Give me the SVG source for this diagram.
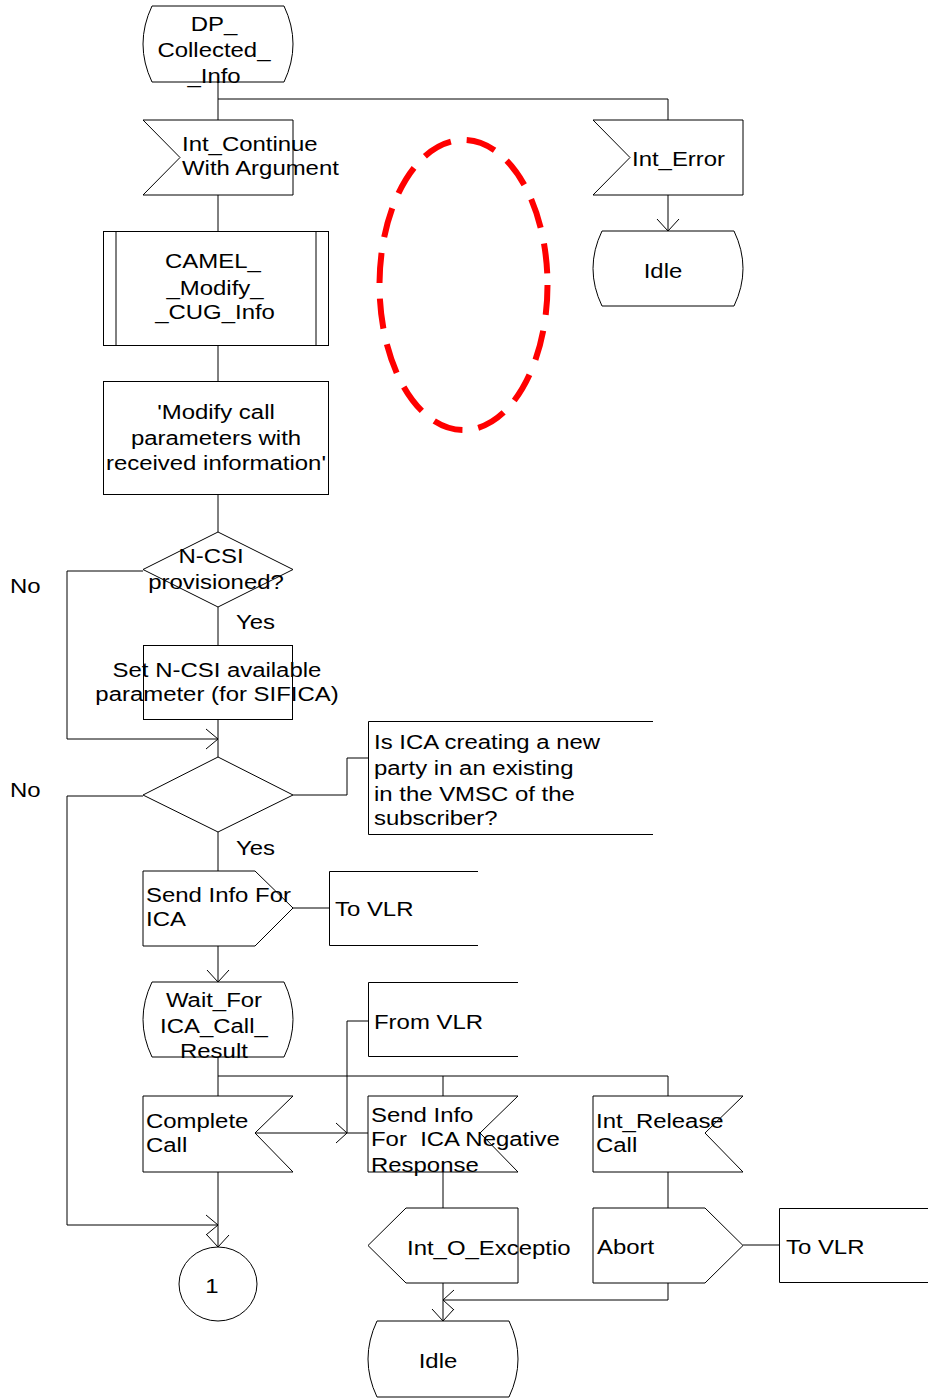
<svg xmlns="http://www.w3.org/2000/svg" width="928" height="1400" viewBox="0 0 928 1400">
  <style>
    .sh { fill: #fff; stroke: #000; stroke-width: 1; }
    .ln { fill: none; stroke: #000; stroke-width: 1; }
    .ar { fill: none; stroke: #000; stroke-width: 1; }
    text { font-family: "Liberation Sans", Arial, sans-serif; font-size: 21px; fill: #000; white-space: pre;
           transform-box: fill-box; transform-origin: 0 0; transform: scaleX(1.14); }
    text.m { text-anchor: middle; transform-origin: 50% 0; }
  </style>
  <rect width="928" height="1400" fill="#fff"/>

  <!-- connectors -->
  <g id="connectors">
    <path class="ln" d="M218,82 V120"/>
    <path class="ln" d="M218,99 H443" stroke-width="1.8"/>
    <path class="ln" d="M443,99 H668 V120"/>
    <path class="ln" d="M668,195 V231"/>
    <polyline class="ar" points="657,219 668,231 679,219"/>
    <path class="ln" d="M218,195 V231"/>
    <path class="ln" d="M218,345 V381"/>
    <path class="ln" d="M218,495 V532"/>
    <path class="ln" d="M218,607 V645"/>
    <path class="ln" d="M143,571 H67 V739 H218"/>
    <path class="ln" d="M218,720 V757"/>
    <polyline class="ar" points="206,729 218,739 206,749"/>
    <path class="ln" d="M293,795 H347 V758 H368"/>
    <path class="ln" d="M143,796 H67 V1225 H218"/>
    <polyline class="ar" points="206,1215 218,1225 206,1235"/>
    <path class="ln" d="M218,832 V871"/>
    <path class="ln" d="M293,908 H329"/>
    <path class="ln" d="M218,946 V982"/>
    <polyline class="ar" points="207,970 218,982 229,970"/>
    <path class="ln" d="M218,1057 V1096"/>
    <path class="ln" d="M218,1076 H668 V1096"/>
    <path class="ln" d="M443,1076 V1096"/>
    <path class="ln" d="M368,1021 H347 V1133"/>
    <path class="ln" d="M255,1133 H368"/>
    <polyline class="ar" points="336,1123 347,1133 336,1143"/>
    <path class="ln" d="M218,1172 V1247"/>
    <polyline class="ar" points="207,1235 218,1247 229,1235"/>
    <path class="ln" d="M443,1172 V1208"/>
    <path class="ln" d="M668,1172 V1208"/>
    <path class="ln" d="M743,1245 H779"/>
    <path class="ln" d="M443,1283 V1321"/>
    <path class="ln" d="M668,1283 V1300 H443"/>
    <polyline class="ar" points="454,1290 443,1300 454,1310"/>
    <polyline class="ar" points="432,1309 443,1321 454,1309"/>
  </g>

  <!-- start state -->
  <g id="state-dp-collected-info">
    <path class="sh" d="M152,6 H284 Q302,44 284,82 H152 Q134,44 152,6 Z"/>
    <text class="m" x="214" y="31">DP_</text>
    <text class="m" x="214" y="57">Collected_</text>
    <text class="m" x="214" y="83">_Info</text>
  </g>

  <g id="input-int-continue">
    <polygon class="sh" points="143,120 293,120 293,195 143,195 180,157.5"/>
    <text x="182" y="151">Int_Continue</text>
    <text x="182" y="175">With Argument</text>
  </g>

  <g id="input-int-error">
    <polygon class="sh" points="593,120 743,120 743,195 593,195 630,157.5"/>
    <text x="632" y="166">Int_Error</text>
  </g>

  <g id="state-idle-1">
    <path class="sh" d="M602,231 H734 Q752,268.5 734,306 H602 Q584,268.5 602,231 Z"/>
    <text class="m" x="663" y="278">Idle</text>
  </g>

  <g id="proc-camel-modify-cug-info">
    <rect class="sh" x="103.5" y="231.5" width="225" height="114"/>
    <path class="ln" d="M116,231.5 V345.5 M316,231.5 V345.5"/>
    <text class="m" x="213" y="268">CAMEL_</text>
    <text class="m" x="215" y="295">_Modify_</text>
    <text class="m" x="215" y="319">_CUG_Info</text>
  </g>

  <g id="task-modify-call-params">
    <rect class="sh" x="103.5" y="381.5" width="225" height="113"/>
    <text class="m" x="216" y="419">'Modify call</text>
    <text class="m" x="216" y="445">parameters with</text>
    <text class="m" x="216" y="470">received information'</text>
  </g>

  <g id="decision-ncsi">
    <polygon class="sh" points="218,532 293,569.5 218,607 143,569.5"/>
    <text class="m" x="211" y="563">N-CSI</text>
    <text class="m" x="216" y="589">provisioned?</text>
  </g>
  <text x="10" y="593">No</text>
  <text x="236" y="629">Yes</text>

  <g id="task-set-ncsi">
    <rect class="sh" x="143.5" y="645.5" width="149" height="74"/>
    <text class="m" x="217" y="677">Set N-CSI available</text>
    <text class="m" x="217" y="701">parameter (for SIFICA)</text>
  </g>

  <g id="decision-ica">
    <polygon class="sh" points="218,757 293,795 218,832 143,795"/>
  </g>
  <text x="10" y="797">No</text>
  <text x="236" y="855">Yes</text>

  <g id="comment-ica">
    <path class="ln" d="M653,721.5 H368.5 V834.5 H653"/>
    <text x="374" y="749">Is ICA creating a new</text>
    <text x="374" y="775">party in an existing</text>
    <text x="374" y="801">in the VMSC of the</text>
    <text x="374" y="825">subscriber?</text>
  </g>

  <g id="output-send-info-for-ica">
    <polygon class="sh" points="143,871 255,871 293,908 255,946 143,946"/>
    <text x="146" y="902">Send Info For</text>
    <text x="146" y="926">ICA</text>
  </g>

  <g id="env-to-vlr-1">
    <path class="ln" d="M478,871.5 H329.5 V945.5 H478"/>
    <text x="335" y="916">To VLR</text>
  </g>

  <g id="state-wait-for-ica-call-result">
    <path class="sh" d="M152,982 H284 Q302,1019.5 284,1057 H152 Q134,1019.5 152,982 Z"/>
    <text class="m" x="214" y="1007">Wait_For</text>
    <text class="m" x="214" y="1033">ICA_Call_</text>
    <text class="m" x="214" y="1058">Result</text>
  </g>

  <g id="env-from-vlr">
    <path class="ln" d="M518,982.5 H368.5 V1056.5 H518"/>
    <text x="374" y="1029">From VLR</text>
  </g>

  <g id="input-complete-call">
    <polygon class="sh" points="143,1096 293,1096 255,1133 293,1172 143,1172"/>
    <text x="146" y="1128">Complete</text>
    <text x="146" y="1152">Call</text>
  </g>

  <g id="input-send-info-neg">
    <polygon class="sh" points="368,1096 518,1096 480,1133 518,1172 368,1172"/>
    <text x="371" y="1122">Send Info</text>
    <text x="371" y="1146" xml:space="preserve">For  ICA Negative</text>
    <text x="371" y="1172">Response</text>
  </g>

  <g id="input-int-release-call">
    <polygon class="sh" points="593,1096 743,1096 705,1133 743,1172 593,1172"/>
    <text x="596" y="1128">Int_Release</text>
    <text x="596" y="1152">Call</text>
  </g>

  <g id="output-int-o-exception">
    <polygon class="sh" points="406,1208 518,1208 518,1283 406,1283 368,1245.5"/>
    <text x="407" y="1255">Int_O_Exceptio</text>
  </g>

  <g id="output-abort">
    <polygon class="sh" points="593,1208 705,1208 743,1245.5 705,1283 593,1283"/>
    <text x="597" y="1254">Abort</text>
  </g>

  <g id="env-to-vlr-2">
    <path class="ln" d="M928,1208.5 H779.5 V1282.5 H928"/>
    <text x="786" y="1254">To VLR</text>
  </g>

  <g id="connector-1">
    <ellipse class="sh" cx="218" cy="1284" rx="39" ry="37"/>
    <text class="m" x="212" y="1293">1</text>
  </g>

  <g id="state-idle-2">
    <path class="sh" d="M377,1321 H509 Q527,1359 509,1397 H377 Q359,1359 377,1321 Z"/>
    <text class="m" x="438" y="1368">Idle</text>
  </g>

  <!-- highlight mark -->
  <ellipse cx="463.5" cy="285" rx="84" ry="145" fill="none" stroke="#ff0000" stroke-width="6" stroke-dasharray="30 16"/>
</svg>
